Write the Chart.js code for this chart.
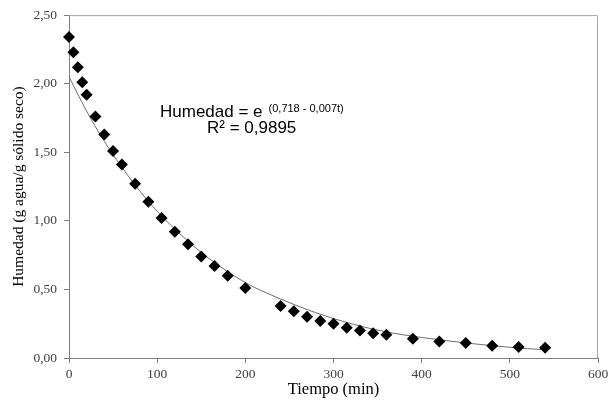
<!DOCTYPE html>
<html>
<head>
<meta charset="utf-8">
<script src="https://cdn.jsdelivr.net/npm/chart.js@4"></script>
<style>
  html, body { margin: 0; padding: 0; background: #fff; }
  #wrap { width: 608px; height: 402px; }
</style>
</head>
<body>
<div id="wrap"><canvas id="secado"></canvas></div>
<script>
// Datos experimentales de secado
const tiempo = [0, 5, 10, 15, 20, 30, 40, 50, 60, 75, 90, 105, 120, 135, 150, 165, 180, 200,
                240, 255, 270, 285, 300, 315, 330, 345, 360, 390, 420, 450, 480, 510, 540];
const humedad = [2.34, 2.23, 2.12, 2.01, 1.92, 1.76, 1.63, 1.51, 1.41, 1.27, 1.14, 1.02, 0.92, 0.83,
                 0.74, 0.67, 0.60, 0.51, 0.38, 0.34, 0.30, 0.27, 0.25, 0.22, 0.20, 0.18, 0.17,
                 0.14, 0.12, 0.11, 0.09, 0.08, 0.075];

// Curva de ajuste
const tiempoAjuste = [0, 20, 40, 60, 80, 100, 130, 160, 200, 240, 280, 320, 360, 400, 450, 500, 540];
const humedadAjuste = [2.05, 1.80, 1.58, 1.39, 1.22, 1.07, 0.88, 0.72, 0.55, 0.43, 0.33, 0.25,
                       0.19, 0.15, 0.11, 0.078, 0.06];

const xTickLabels = ['0', '100', '200', '300', '400', '500', '600'];
const yTickLabels = ['0,00', '0,50', '1,00', '1,50', '2,00', '2,50'];

const ecuacion = 'Humedad = e';
const exponente = '(0,718 - 0,007t)';
const r2 = 'R\u00b2 = 0,9895';

const serif = "'Liberation Serif', 'Times New Roman', serif";
const sans = "'Liberation Sans', Arial, sans-serif";

// marco superior y derecho
const framePlugin = {
    id: 'frame',
    beforeDatasetsDraw(chart) {
        const { ctx, chartArea: a } = chart;
        ctx.save();
        ctx.strokeStyle = '#a6a6a6';
        ctx.lineWidth = 1;
        ctx.beginPath();
        ctx.moveTo(a.left, a.top + 0.5);
        ctx.lineTo(a.right - 0.5, a.top + 0.5);
        ctx.lineTo(a.right - 0.5, a.bottom);
        ctx.stroke();
        ctx.restore();
    }
};

const labelPlugin = {
    id: 'ecuacion',
    afterDraw(chart) {
        const ctx = chart.ctx;
        ctx.save();
        ctx.fillStyle = '#000';
        ctx.textBaseline = 'alphabetic';
        ctx.textAlign = 'left';
        ctx.font = '17px ' + sans;
        ctx.fillText(ecuacion, 160, 117);
        const w = ctx.measureText(ecuacion).width;
        ctx.font = '11px ' + sans;
        ctx.fillText(exponente, 160 + w + 6, 111.5);
        ctx.font = '17px ' + sans;
        ctx.fillText(r2, 207, 132.5);
        ctx.restore();
    }
};

function initSecadoChart() {
    const ctx = document.getElementById('secado');
    if (!ctx) return;

    const data = {
        datasets: [{
            type: 'scatter',
            label: 'Humedad',
            data: tiempo.map((t, i) => ({ x: t, y: humedad[i] })),
            pointStyle: 'rectRot',
            pointRadius: 6,
            pointBackgroundColor: '#000',
            pointBorderColor: '#000',
            pointBorderWidth: 0,
            clip: false
        }, {
            type: 'line',
            label: 'Ajuste',
            data: tiempoAjuste.map((t, i) => ({ x: t, y: humedadAjuste[i] })),
            borderColor: '#6e6e6e',
            borderWidth: 1,
            pointRadius: 0,
            fill: false,
            cubicInterpolationMode: 'monotone'
        }]
    };

    new Chart(ctx, {
        data: data,
        plugins: [framePlugin, labelPlugin],
        options: {
            responsive: true,
            maintainAspectRatio: false,
            animation: false,
            layout: { padding: { top: 14, right: 10, left: 0, bottom: 0 } },
            scales: {
                x: {
                    type: 'linear',
                    min: 0,
                    max: 600,
                    afterFit(s) { s.height = 44; s.paddingLeft = 0; s.paddingRight = 0; },
                    ticks: {
                        stepSize: 100,
                        maxRotation: 0,
                        padding: 3,
                        color: '#404040',
                        font: { family: serif, size: 13.5 },
                        callback: (v, i) => xTickLabels[i]
                    },
                    grid: { drawOnChartArea: false, tickLength: 5, color: '#7f7f7f' },
                    border: { color: '#7f7f7f' },
                    title: {
                        display: true,
                        text: 'Tiempo (min)',
                        color: '#000',
                        font: { family: serif, size: 16.5 },
                        padding: { top: 0, bottom: 2 }
                    }
                },
                y: {
                    min: 0,
                    max: 2.5,
                    afterFit(s) { s.width = 69; },
                    ticks: {
                        stepSize: 0.5,
                        padding: 7,
                        color: '#404040',
                        font: { family: serif, size: 13.5 },
                        callback: (v, i) => yTickLabels[i]
                    },
                    grid: { drawOnChartArea: false, tickLength: 5, color: '#7f7f7f' },
                    border: { color: '#7f7f7f' },
                    title: {
                        display: true,
                        text: 'Humedad (g agua/g s\u00f3lido seco)',
                        color: '#000',
                        font: { family: serif, size: 15.5 },
                        padding: { top: 10, bottom: 0 }
                    }
                }
            },
            plugins: {
                legend: { display: false },
                tooltip: { enabled: false }
            }
        }
    });
}

document.addEventListener('DOMContentLoaded', function() {
    initSecadoChart();
});
</script>
</body>
</html>
